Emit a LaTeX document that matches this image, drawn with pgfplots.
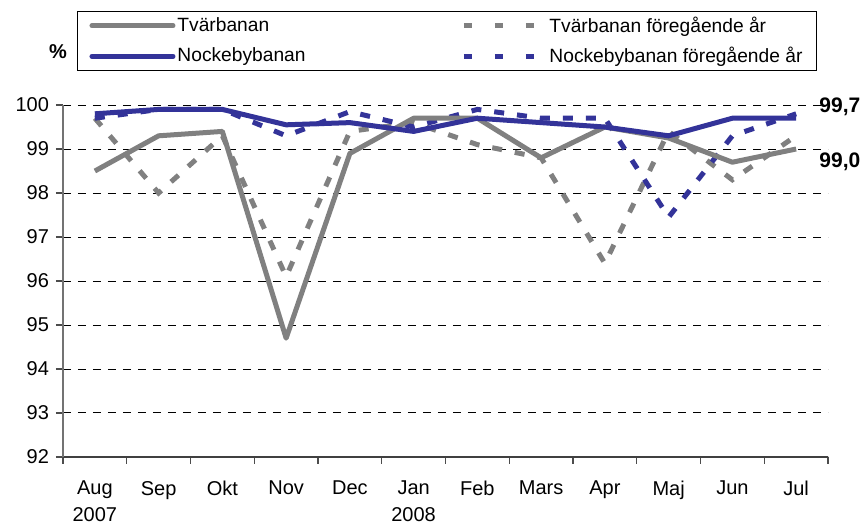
\documentclass[border=0pt]{standalone}
\usepackage{fontspec}
\setmainfont{Liberation Sans}
\usepackage{pgfplots}
\pgfplotsset{compat=1.18}
\definecolor{tvgray}{RGB}{128,128,128}
\definecolor{nkblue}{RGB}{51,51,153}

\begin{document}
\fontsize{10pt}{12pt}\selectfont
\begin{tikzpicture}
% picture frame: 1 px of the reference = 0.5pt
\path[use as bounding box] (-31.5pt,-33.5pt) rectangle (400.5pt,228.5pt);
\begin{axis}[
  scale only axis, width=382.5pt, height=176pt,
  xmin=0, xmax=12, ymin=92, ymax=100,
  xtick={0,...,12}, x tick label as interval,
  xticklabels={Aug\\2007,Sep,Okt,Nov,Dec,Jan\\2008,Feb,Mars,Apr,Maj,Jun,Jul},
  xticklabel style={align=center, anchor=north, yshift=-5pt, font=\fontsize{10}{13.5}\selectfont},
  ytick={92,...,100},
  yticklabel style={font=\fontsize{10}{12}\selectfont},
  /pgf/number format/assume math mode=true,
  axis x line*=bottom, axis y line*=left,
  x axis line style={-, black!75, line width=0.6pt},
  y axis line style={-, black!55, line width=0.6pt},
  tick style={black!70, line width=0.6pt},
  tick align=outside, major tick length=3.5pt,
  ymajorgrids, grid style={black, line width=0.5pt, dash pattern=on 4pt off 3.5pt},
  clip=false,
  every axis y label/.style={at={(axis description cs:-0.0065,1.1506)}, anchor=center,
    font=\fontsize{10}{12}\selectfont\bfseries},
  ylabel={\%},
  legend columns=2, legend cell align=left,
  legend image code/.code={\draw[#1] (0pt,0pt) -- (40.5pt,0pt);},
  legend style={at={(rel axis cs:0.0183,1.267)}, anchor=north west,
    draw=black, line width=0.5pt, inner xsep=6pt, inner ysep=1.5pt,
    font=\fontsize{9.6}{11.5}\selectfont, row sep=4pt,
    nodes={inner sep=1pt},
    /tikz/every even column/.append style={column sep=5pt}},
]
% previous year
\addplot[tvgray, line width=2.5pt, dash pattern=on 5pt off 6.5pt, forget plot] coordinates {
  (0.5,99.7) (1.5,98.0) (2.5,99.3) (3.5,96.1) (4.5,99.4) (5.5,99.6)
  (6.5,99.1) (7.5,98.8) (8.5,96.4) (9.5,99.4) (10.5,98.3) (11.5,99.3)};
\addplot[nkblue, line width=2.5pt, dash pattern=on 5pt off 6.5pt, forget plot] coordinates {
  (0.5,99.7) (1.5,99.9) (2.5,99.9) (3.5,99.3) (4.5,99.85) (5.5,99.5)
  (6.5,99.9) (7.5,99.7) (8.5,99.7) (9.5,97.45) (10.5,99.3) (11.5,99.8)};
% this year
\addplot[tvgray, line width=2.5pt, line join=round, forget plot] coordinates {
  (0.5,98.5) (1.5,99.3) (2.5,99.4) (3.5,94.7) (4.5,98.9) (5.5,99.7)
  (6.5,99.7) (7.5,98.8) (8.5,99.5) (9.5,99.25) (10.5,98.7) (11.5,99.0)};
\addplot[nkblue, line width=2.5pt, line join=round, forget plot] coordinates {
  (0.5,99.8) (1.5,99.9) (2.5,99.9) (3.5,99.55) (4.5,99.6) (5.5,99.4)
  (6.5,99.7) (7.5,99.6) (8.5,99.5) (9.5,99.3) (10.5,99.7) (11.5,99.7)};

\addlegendimage{tvgray, line width=2.5pt, line cap=round}
\addlegendentry{\makebox[136pt][l]{Tvärbanan}}
\addlegendimage{tvgray, line width=2.5pt, dash pattern=on 4pt off 11.5pt}
\addlegendentry{Tvärbanan föregående år}
\addlegendimage{nkblue, line width=2.5pt, line cap=round}
\addlegendentry{\makebox[136pt][l]{Nockebybanan}}
\addlegendimage{nkblue, line width=2.5pt, dash pattern=on 4pt off 11.5pt}
\addlegendentry{Nockebybanan föregående år}

\node[anchor=west, font=\fontsize{10.5}{12}\selectfont\bfseries, inner sep=0pt] at (axis cs:11.86,99.95) {99,7};
\node[anchor=west, font=\fontsize{10.5}{12}\selectfont\bfseries, inner sep=0pt] at (axis cs:11.86,98.7) {99,0};
\end{axis}
\end{tikzpicture}
\end{document}
